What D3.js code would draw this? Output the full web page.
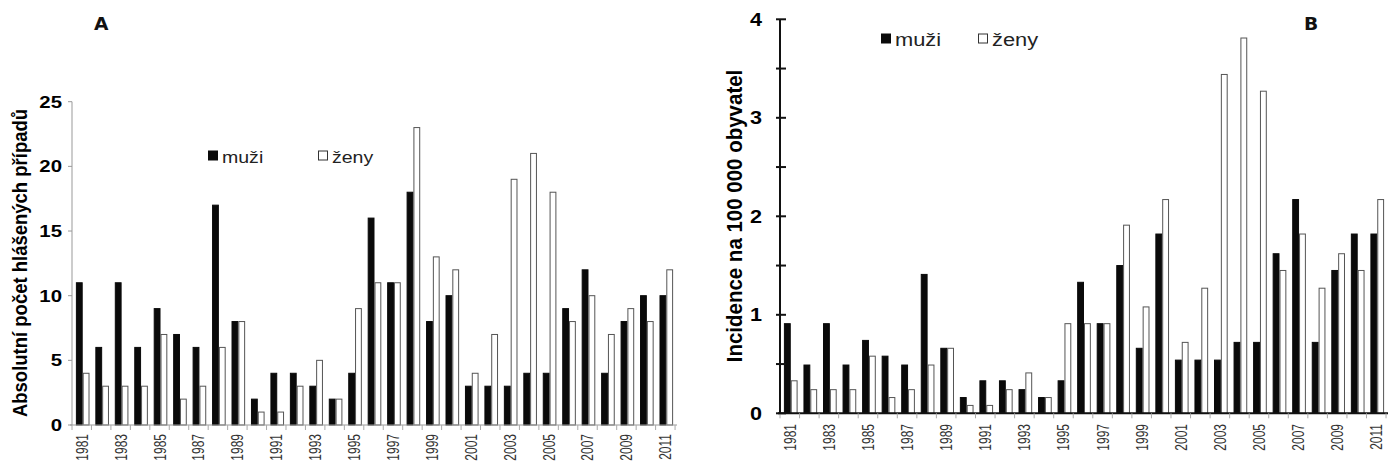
<!DOCTYPE html>
<html><head><meta charset="utf-8">
<script src="https://cdn.jsdelivr.net/npm/d3@7"></script>
<style>body{margin:0;background:#fff}svg{display:block}</style>
</head><body>
<svg id="c" width="1390" height="464"></svg>
<script>
const years = d3.range(1981, 2012).map(String);
const countMen   = [11,6,11,6,9,7,6,17,8,2,4,4,3,2,4,16,11,18,8,10,3,3,3,4,4,9,12,4,8,10,10];
const countWomen = [4,3,3,3,7,2,3,6,8,1,1,3,5,2,9,11,11,23,13,12,4,7,19,21,18,8,10,7,9,8,12];
const incMen   = [0.91,0.49,0.91,0.49,0.74,0.58,0.49,1.41,0.66,0.16,0.33,0.33,0.24,0.16,0.33,1.33,0.91,1.50,0.66,1.82,0.54,0.54,0.54,0.72,0.72,1.62,2.17,0.72,1.45,1.82,1.82];
const incWomen = [0.33,0.24,0.24,0.24,0.58,0.16,0.24,0.49,0.66,0.08,0.08,0.24,0.41,0.16,0.91,0.91,0.91,1.91,1.08,2.17,0.72,1.27,3.44,3.81,3.27,1.45,1.82,1.27,1.62,1.45,2.17];
const seriesNames = ["muži","ženy"];
const yTicksA = [0,5,10,15,20,25];
const yTicksB = [0,1,2,3,4];
const yMinorB = [0,0.5,1,1.5,2,2.5,3,3.5,4];

const svg = d3.select("#c");
const FONT = "Liberation Sans, Arial, sans-serif";

function stretchText(g, x, y, txt, opts){
  return g.append("text")
    .attr("transform", `translate(${x},${y}) scale(${opts.sx||1},1)` + (opts.rot?` rotate(${opts.rot})`:""))
    .attr("font-family", opts.family||FONT)
    .attr("font-size", opts.size)
    .attr("font-weight", opts.weight||"normal")
    .attr("fill", opts.fill||"#000")
    .attr("text-anchor", opts.anchor||"start")
    .attr("dominant-baseline", opts.baseline||"auto")
    .text(txt);
}

function panel(cfg){
  const g = svg.append("g");
  const x = d3.scaleBand().domain(years).range([cfg.x0, cfg.x1]).paddingInner(0.3).paddingOuter(0.2);
  const step = x.step();
  const sub = d3.scaleBand().domain(seriesNames).range([0, x.bandwidth()]);
  const y = d3.scaleLinear().domain(cfg.dom).range([cfg.y0, cfg.yTop]);

  const data = years.map((yr,i)=>({yr, v:[cfg.men[i], cfg.women[i]]}));
  const grp = g.selectAll("g.cat").data(data).join("g").attr("transform", d=>`translate(${x(d.yr)},0)`);
  grp.selectAll("rect").data(d=>d.v.map((v,j)=>({v, s:seriesNames[j]}))).join("rect")
    .attr("x", d=>sub(d.s)+0.5)
    .attr("width", sub.bandwidth()-1)
    .attr("y", d=>y(d.v))
    .attr("height", d=>y(0)-y(d.v))
    .attr("fill", d=>d.s==="muži"?"#0a0a0a":"#fff")
    .attr("stroke", d=>d.s==="muži"?"#0a0a0a":"#555")
    .attr("stroke-width", 1);

  const ax = cfg.axisColor, aw = cfg.axisWidth;
  g.append("line").attr("x1", cfg.x0-2).attr("x2", cfg.x1).attr("y1", y(0)).attr("y2", y(0)).attr("stroke", ax).attr("stroke-width", aw);
  const bounds = d3.range(0, years.length+1).map(i=>cfg.x0 + i*step);
  g.selectAll("line.xt").data(bounds).join("line").attr("class","xt")
    .attr("x1", d=>d).attr("x2", d=>d).attr("y1", y(0)).attr("y2", y(0)+5)
    .attr("stroke", "#aaa").attr("stroke-width", 1);
  years.forEach((yr,i)=>{
    if (i%2) return;
    stretchText(g, x(yr)+x.bandwidth()/2+5, cfg.labTop, yr, {size:12, rot:-90, anchor:"end", fill:"#333", sx:1.35});
  });

  g.append("line").attr("x1", cfg.x0).attr("x2", cfg.x0).attr("y1", y(0)).attr("y2", y(cfg.dom[1])).attr("stroke", ax).attr("stroke-width", aw);
  g.selectAll("line.yt").data(cfg.minor).join("line").attr("class","yt")
    .attr("x1", cfg.x0 - cfg.tickOut).attr("x2", cfg.x0 + cfg.tickIn)
    .attr("y1", d=>y(d)).attr("y2", d=>y(d)).attr("stroke", ax).attr("stroke-width", aw);
  cfg.major.forEach(v=>{
    stretchText(g, cfg.labRight, y(v), String(v), {size:cfg.tickSize, weight:"bold", anchor:"end", baseline:"central", sx:1.2});
  });

  stretchText(g, cfg.titleX, cfg.titleY, cfg.title, {size:cfg.titleSize, weight:"bold", rot:-90, anchor:"middle", baseline:"central", sx:1.05});

  const L = cfg.legend;
  g.append("rect").attr("x", L.x1).attr("y", L.y).attr("width", 10).attr("height", 10).attr("fill", "#0a0a0a");
  stretchText(g, L.x1+14, L.y+12, seriesNames[0], {size:L.size, fill:"#222", sx:1.15});
  g.append("rect").attr("x", L.x2+0.5).attr("y", L.y+0.5).attr("width", 9).attr("height", 9).attr("fill", "#fff").attr("stroke", "#333").attr("stroke-width", 1);
  stretchText(g, L.x2+14, L.y+12, seriesNames[1], {size:L.size, fill:"#222", sx:1.15});

  stretchText(g, cfg.letter.x, cfg.letter.y, cfg.letter.t, {size:17, weight:"bold", family:"DejaVu Sans, sans-serif", fill:"#111", sx:1.1});
}

panel({x0:72, x1:677, y0:425, yTop:101.7, dom:[0,25], men:countMen, women:countWomen,
  axisColor:"#999", axisWidth:1, tickOut:4, tickIn:0, minor:yTicksA, major:yTicksA,
  labRight:62, tickSize:17, labTop:434,
  title:"Absolutní počet hlášených případů", titleX:20, titleY:263, titleSize:18.5,
  legend:{x1:208, x2:318, y:150.5, size:17},
  letter:{x:94, y:30, t:"A"}});

panel({x0:780, x1:1388, y0:413.3, yTop:19.3, dom:[0,4], men:incMen, women:incWomen,
  axisColor:"#111", axisWidth:2, tickOut:4, tickIn:6, minor:yMinorB, major:yTicksB,
  labRight:762, tickSize:18, labTop:424,
  title:"Incidence na 100 000 obyvatel", titleX:734, titleY:216, titleSize:20.5,
  legend:{x1:881, x2:978, y:33.5, size:19},
  letter:{x:1304, y:30, t:"B"}});
</script>
</body></html>
